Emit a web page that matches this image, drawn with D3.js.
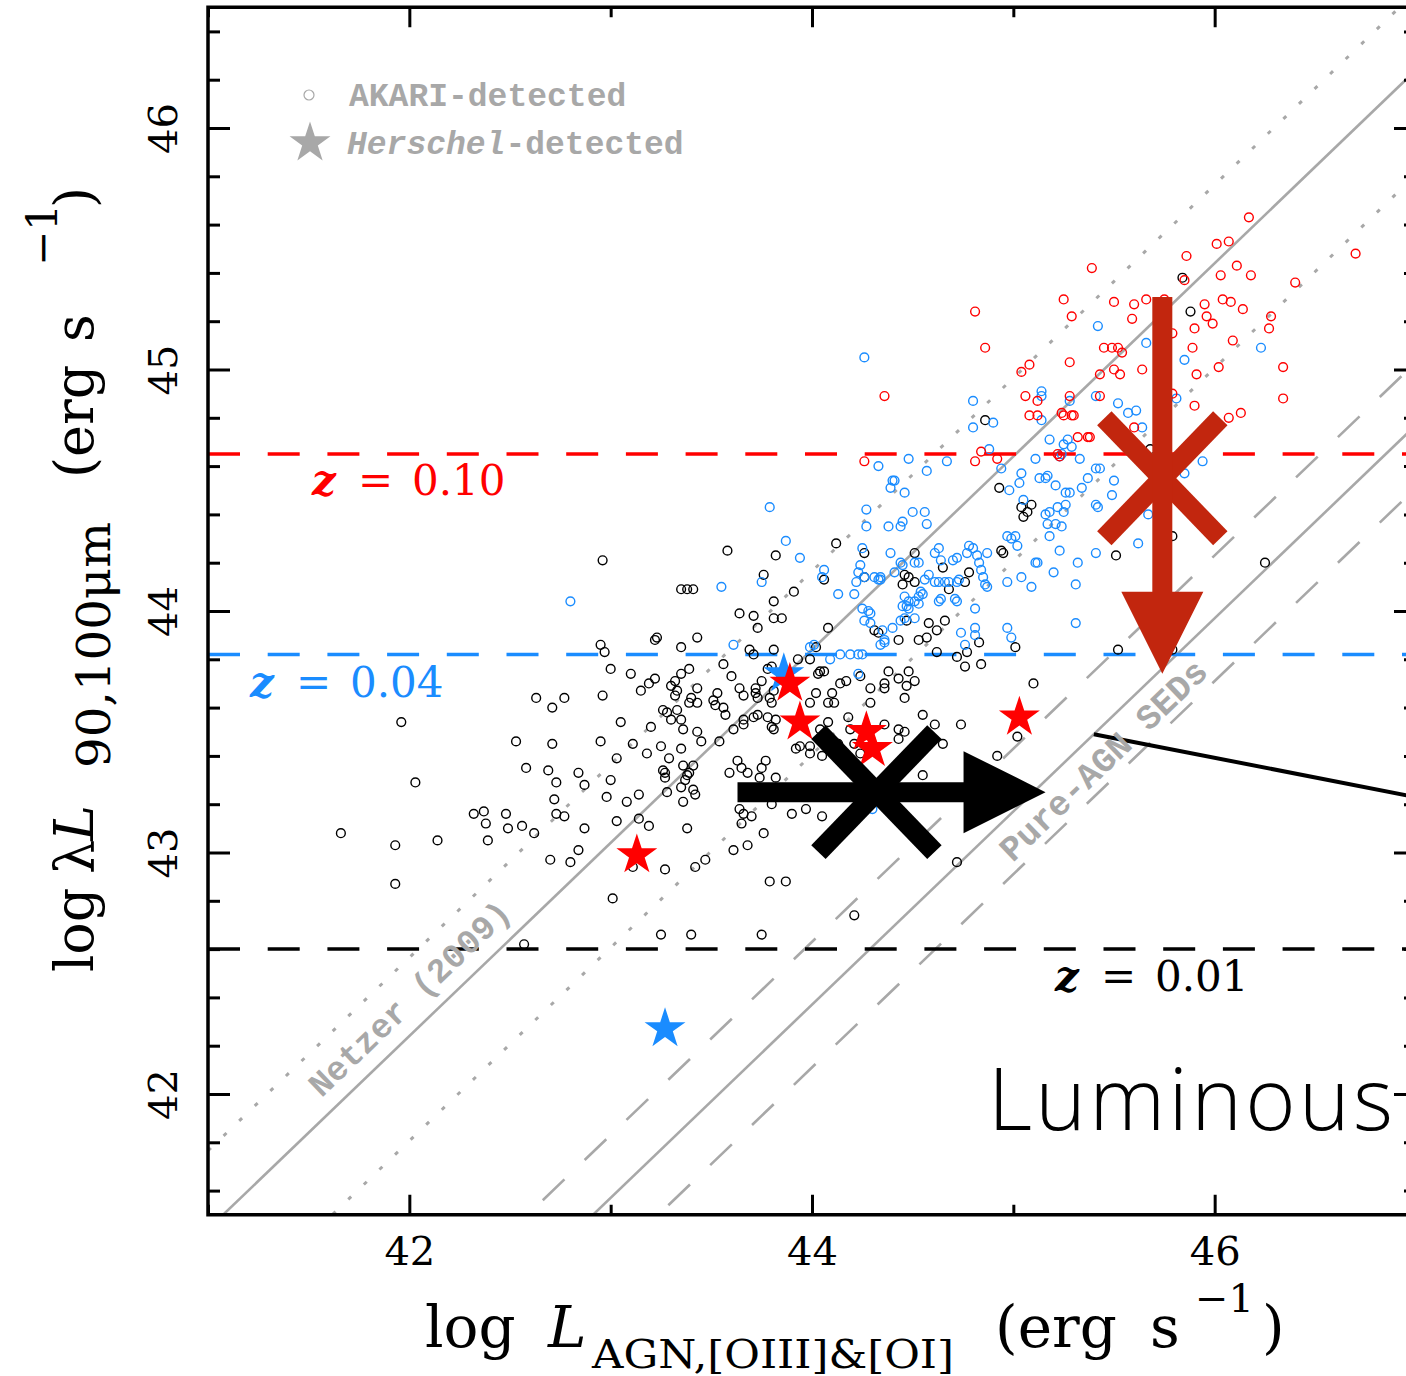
<!DOCTYPE html>
<html>
<head>
<meta charset="utf-8">
<script src="https://cdn.jsdelivr.net/npm/d3@7"></script>
<style>
  html, body { margin: 0; padding: 0; background: #fff; }
  svg { display: block; }
</style>
</head>
<body>
<svg id="chart" width="1406" height="1376"></svg>
<script>
// ---------------------------------------------------------------
// Far-IR luminosity vs. AGN luminosity ([OIII]+[OI] based)
// ---------------------------------------------------------------

// AKARI-detected sources, split by colour group: [log L_AGN, log lambda L_90,100um]
const akariBlack = [
  [42.96,44.21],[43.58,44.25],[43.35,44.09],[43.38,44.09],[43.41,44.09],[43.64,43.99],[43.23,43.89],[43.43,43.89],[41.96,43.54],[42.03,43.29],
  [42.95,43.86],[42.97,43.83],[43.00,43.76],[43.10,43.74],[43.22,43.88],[43.35,43.85],[43.19,43.70],[43.22,43.72],[43.15,43.67],[43.30,43.69],
  [43.32,43.71],[43.32,43.65],[43.33,43.67],[43.35,43.74],[43.39,43.76],[43.43,43.68],[42.63,43.64],[42.71,43.60],[42.77,43.64],[42.96,43.65],
  [43.26,43.59],[43.28,43.58],[43.30,43.55],[43.33,43.59],[43.35,43.55],[43.36,43.51],[43.39,43.62],[43.40,43.64],[43.43,43.62],[43.43,43.50],
  [43.45,43.46],[43.51,43.63],[43.53,43.66],[43.52,43.61],[43.56,43.60],[43.57,43.57],[43.56,43.78],[43.60,43.73],[43.64,43.68],[43.66,43.65],
  [43.72,43.68],[43.75,43.71],[43.72,43.66],[43.73,43.64],[43.79,43.64],[43.80,43.62],[43.81,43.67],[43.69,43.84],[43.71,43.82],[43.81,43.84],
  [43.78,43.76],[43.80,43.77],[43.61,43.51],[43.66,43.53],[43.66,43.55],[43.71,43.56],[43.73,43.57],[43.78,43.56],[43.80,43.52],[43.81,43.51],
  [43.82,43.55],[43.54,43.46],[43.93,43.80],[43.99,43.80],[44.02,43.85],[44.04,43.75],[44.06,43.75],[44.03,43.74],[44.14,43.70],[44.17,43.71],
  [44.24,43.73],[44.29,43.68],[44.29,43.62],[44.36,43.70],[44.36,43.68],[44.38,43.75],[44.43,43.72],[43.99,43.62],[44.02,43.66],[44.08,43.62],
  [44.10,43.66],[44.11,43.62],[44.18,43.56],[44.19,43.51],[44.36,43.53],[44.43,43.51],[44.43,43.47],[44.08,43.54],[44.04,43.51],[43.92,43.43],
  [43.94,43.44],[43.99,43.44],[43.99,43.41],[44.05,43.40],[44.09,43.44],[44.13,43.45],[44.24,43.41],[44.21,43.45],[42.53,43.46],[42.71,43.45],
  [42.95,43.46],[43.11,43.45],[43.05,43.54],[43.20,43.52],[43.25,43.44],[43.18,43.41],[43.29,43.39],[43.35,43.43],[42.58,43.35],[42.69,43.34],
  [42.73,43.29],[42.84,43.33],[42.87,43.28],[43.00,43.30],[43.03,43.39],[43.26,43.34],[43.27,43.33],[43.27,43.31],[43.36,43.36],[43.41,43.36],
  [43.39,43.33],[43.38,43.32],[43.37,43.30],[43.35,43.27],[43.41,43.26],[43.42,43.24],[43.28,43.25],[43.36,43.21],[43.14,43.24],[43.08,43.21],
  [42.98,43.23],[42.72,43.22],[42.32,43.16],[42.37,43.17],[42.38,43.12],[42.39,43.05],[42.48,43.16],[42.49,43.10],[42.56,43.11],[42.62,43.08],
  [42.73,43.16],[42.77,43.15],[42.87,43.10],[43.03,43.13],[43.14,43.14],[43.19,43.11],[43.38,43.10],[42.84,43.01],[42.70,42.97],[42.80,42.96],
  [43.11,42.94],[43.27,42.93],[43.42,42.94],[43.47,42.97],[43.01,42.81],[43.25,42.66],[43.40,42.66],[43.75,42.66],[43.59,43.33],[43.63,43.38],
  [43.65,43.35],[43.68,43.33],[43.74,43.31],[43.77,43.38],[43.75,43.35],[43.82,43.31],[43.64,43.18],[43.66,43.16],[43.65,43.12],[43.70,43.15],
  [43.76,43.08],[43.61,43.01],[43.68,43.03],[43.80,43.20],[43.90,43.16],[43.97,43.18],[44.05,43.15],[43.79,42.88],[43.87,42.88],[44.21,42.74],
  [41.66,43.08],[41.93,43.03],[41.93,42.87],[42.14,43.05],[42.57,42.62],
  [44.86,44.79],[44.93,44.51],[45.04,44.43],[45.09,44.44],[45.07,44.41],[45.05,44.39],[44.94,44.25],[44.95,44.24],[44.78,44.16],[44.65,44.18],
  [44.68,44.09],[44.76,44.12],[44.51,44.24],[44.46,44.15],[44.48,44.14],[44.45,44.11],[44.51,44.12],[44.26,44.24],[44.12,44.28],[44.06,44.13],
  [44.26,44.14],[43.82,44.23],[43.76,44.15],[43.91,44.08],[43.81,44.04],[43.71,43.98],[43.73,43.93],[43.81,43.97],[43.85,43.97],[44.08,43.93],
  [44.31,43.92],[44.33,43.91],[44.47,43.96],[44.43,43.88],[44.53,43.88],[44.57,43.89],[44.58,43.95],[44.62,43.92],[44.66,43.96],[44.83,43.87],
  [45.01,43.85],[44.62,43.83],[44.72,43.81],[44.76,43.77],[44.77,43.83],[44.84,43.78],[45.52,43.84],
  [44.48,43.75],[44.51,43.71],[44.47,43.69],[44.46,43.64],[45.10,43.70],[44.55,43.57],[44.61,43.53],[44.65,43.45],[44.74,43.53],[44.46,43.50],
  [45.02,43.48],[44.92,43.40],[44.55,43.32],[44.72,42.96],[45.79,43.84],
  [45.84,45.38],[45.88,45.24],[45.68,44.67],[45.79,44.31],[45.51,44.23],[46.25,44.20]
];

const akariBlue = [
  [42.80,44.04],[43.55,44.10],
  [43.61,43.86],[43.99,43.85],[44.01,43.86],[44.09,43.80],[44.14,43.82],[44.19,43.82],[44.23,43.82],[44.25,43.82],[44.23,43.74],[44.34,43.86],
  [44.36,43.87],[44.30,43.18],
  [44.80,44.87],[44.80,44.76],[44.90,44.78],[44.88,44.67],[44.33,44.60],[44.48,44.63],[44.57,44.58],[44.67,44.62],[44.94,44.59],[44.40,44.54],
  [44.41,44.54],[44.39,44.51],[44.46,44.49],[44.27,44.42],[44.27,44.35],[44.38,44.35],[44.44,44.35],[44.45,44.37],[44.50,44.41],[44.56,44.41],
  [44.57,44.36],[43.79,44.43],[43.87,44.29],[43.94,44.22],[43.75,44.12],[44.06,44.17],[44.05,44.14],[44.25,44.26],[44.24,44.19],[44.23,44.16],
  [44.22,44.12],[44.26,44.14],[44.33,44.13],[44.34,44.13],[44.13,44.07],[44.21,44.07],[44.39,44.24],[44.41,44.16],[44.45,44.19],[44.44,44.20],
  [44.51,44.20],[44.53,44.20],[44.56,44.13],[44.58,44.15],[44.63,44.26],[44.61,44.24],[44.64,44.21],[44.70,44.21],[44.72,44.22],[44.78,44.27],
  [44.80,44.26],[44.77,44.24],[44.82,44.23],[44.87,44.24],[44.83,44.20],[44.84,44.17],[44.85,44.14],[44.86,44.11],[44.87,44.10],[44.61,44.12],
  [44.63,44.12],[44.66,44.12],[44.68,44.12],[44.72,44.12],[44.73,44.13],[44.54,44.08],[44.55,44.07],[44.53,44.06],[44.46,44.06],[44.48,44.04],
  [44.47,44.02],[44.51,44.04],[44.53,44.03],[44.25,44.01],[44.28,44.00],[44.29,43.99],[44.26,43.96],[44.29,43.95],[44.35,43.92],[44.40,43.93],
  [44.36,43.88],[44.44,43.96],[44.46,43.97],[44.51,43.97],[44.48,44.01],[44.45,44.02],[44.63,44.04],[44.64,44.05],[44.71,44.05],[44.72,44.04],
  [44.74,43.91],[44.76,43.86],[44.81,43.93],[44.81,43.90],[44.81,44.01],[44.97,43.93],[44.99,43.89],[44.34,44.14],[44.31,44.14],[44.97,44.12],
  [45.04,44.14],[45.09,44.10],[45.11,44.20],[45.12,44.20],[45.20,44.16],[45.23,44.25],[45.32,44.20],[45.31,44.11],[45.31,43.95],[45.02,44.27],
  [45.01,44.31],[44.99,44.30],[44.97,44.31],[45.26,44.44],[45.22,44.43],[45.16,44.40],[45.18,44.41],[45.17,44.36],[45.21,44.36],[45.24,44.35],
  [45.18,44.31],[45.25,44.41],
  [45.42,45.18],[45.66,45.11],[46.23,45.09],[45.85,45.04],[45.14,44.91],[45.14,44.89],[45.41,44.89],[45.28,44.87],[45.52,44.86],[45.81,44.88],
  [45.57,44.82],[45.61,44.83],[45.14,44.79],[45.64,44.76],[45.18,44.71],[45.25,44.69],[45.27,44.71],[45.29,44.68],[45.23,44.64],[45.24,44.65],
  [45.33,44.63],[45.11,44.63],[45.43,44.59],[45.50,44.54],[45.37,44.55],[45.04,44.57],[45.03,44.53],[45.13,44.55],[45.17,44.56],[45.16,44.55],
  [45.21,44.52],[45.34,44.51],[45.26,44.49],[45.28,44.49],[45.49,44.48],[45.94,44.62],[45.85,44.57],[44.98,44.50],[45.05,44.46],
  [45.41,44.59],[45.41,44.44],[45.42,44.43],[45.67,44.40],[45.62,44.28],[45.41,44.24],
  [44.26,45.05]
];

const akariRed = [
  [44.81,45.24],[44.86,45.09],[44.36,44.89],[44.26,44.62],[44.81,44.62],[44.84,44.66],[44.92,44.63],
  [46.17,45.63],[46.01,45.52],[46.07,45.53],[45.86,45.47],[46.70,45.48],[45.39,45.42],[45.85,45.37],[46.03,45.39],[46.11,45.43],[46.18,45.39],
  [46.40,45.36],[45.25,45.29],[45.29,45.22],[45.50,45.28],[45.60,45.27],[45.59,45.21],[45.66,45.29],[45.75,45.29],[45.95,45.27],[45.96,45.22],
  [45.99,45.19],[46.04,45.29],[46.08,45.28],[46.14,45.25],[45.90,45.17],[46.28,45.22],[46.27,45.17],[46.09,45.12],[45.89,45.09],[45.79,45.15],
  [45.45,45.09],[45.49,45.09],[45.52,45.09],[45.54,45.07],[45.28,45.03],[45.04,44.99],[45.08,45.02],[45.43,44.98],[45.50,45.00],[45.53,44.98],
  [45.64,45.00],[45.91,44.98],[46.02,45.01],[46.34,45.01],[45.06,44.89],[45.28,44.89],[45.43,44.89],[45.12,44.87],[45.79,44.90],[45.90,44.85],
  [46.34,44.88],[45.08,44.81],[45.12,44.81],[45.24,44.82],[45.25,44.81],[45.29,44.81],[45.30,44.81],[45.60,44.76],[46.07,44.80],[46.13,44.82],
  [45.32,44.72],[45.37,44.72],[45.38,44.72],[45.22,44.65],[45.23,44.64]
];

// Herschel-detected sources
const herschelBlue = [[43.86,43.74],[43.27,42.27]];
const herschelRed  = [[43.89,43.70],[43.94,43.54],[44.27,43.50],[44.30,43.43],[43.13,42.99],[45.03,43.56]];

// Redshift limits (horizontal dashed lines)
const zLabels = ["0.10", "0.04", "0.01"];
const zLimitY = [44.65, 43.82, 42.60];

// Relations of the form y = slope * x + intercept
const relationSlope = 0.8;
const netzerIntercept = 8.64;              // Netzer (2009)
const netzerBand = [8.965, 8.206];         // dotted envelope
const pureAgnIntercept = 7.17;             // pure-AGN SEDs
const pureAgnBand = [7.43, 6.91];          // dashed envelope

// Stacked / mean positions with their shifts
const blackMean = [44.32, 43.25];
const blackArrowFrom = 43.63, blackArrowTo = 45.16;   // arrow along x
const redMean = [45.74, 44.55];
const redArrowFrom = 45.30, redArrowTo = 43.74;       // arrow along y

// Pointer line towards the companion panel
const pointerLine = [[45.40, 43.49], [47.30, 43.18]];

// Axis ticks
const xMajorTicks = [42, 44, 46];
const xMinorTicks = [41, 43, 45, 47];
const yMajorTicks = [42, 43, 44, 45, 46];
const yMinorTicks = d3.range(41.6, 46.5, 0.2).filter(v => Math.abs(v - Math.round(v)) > 0.01);

// ---------------------------------------------------------------
const svg = d3.select("#chart");
const x = d3.scaleLinear().domain([41, 47]).range([208, 1416]);
const y = d3.scaleLinear().domain([41.5, 46.5]).range([1214.75, 7.25]);

const BLUE = "#1a8cff", RED = "#ff0000", GREY = "#a8a8a8", DARKRED = "#c2260e";
const SERIF = "'DejaVu Serif', serif";
const MONO = "'Liberation Mono', 'DejaVu Sans Mono', monospace";

svg.append("defs").append("clipPath").attr("id", "plotClip")
  .append("rect").attr("x", 208).attr("y", 7.25).attr("width", 1208).attr("height", 1207.5);

const plot = svg.append("g").attr("clip-path", "url(#plotClip)");

// straight relation lines
const xs = [41, 47.2];
const relLine = d3.line().x(d => x(d[0])).y(d => y(d[1]));
function relation(b, style) {
  plot.append("path")
    .attr("d", relLine(xs.map(v => [v, relationSlope * v + b])))
    .attr("fill", "none").attr("stroke", GREY)
    .attr("stroke-width", style.w).attr("stroke-dasharray", style.dash || null);
}
relation(netzerIntercept, { w: 2.6 });
netzerBand.forEach(b => relation(b, { w: 3, dash: "4,17.6" }));
relation(pureAgnIntercept, { w: 2.6 });
pureAgnBand.forEach(b => relation(b, { w: 2.6, dash: "30,28" }));

// redshift limits
const zColors = [RED, BLUE, "#000"];
zLimitY.forEach((v, i) => {
  plot.append("line")
    .attr("x1", x(41)).attr("x2", x(47.2)).attr("y1", y(v)).attr("y2", y(v))
    .attr("stroke", zColors[i]).attr("stroke-width", 3.5)
    .attr("stroke-dasharray", "32,27.7");
});

// AKARI circles
function circles(data, color) {
  plot.append("g").selectAll("circle").data(data).join("circle")
    .attr("cx", d => x(d[0])).attr("cy", d => y(d[1])).attr("r", 4.4)
    .attr("fill", "none").attr("stroke", color).attr("stroke-width", 1.4);
}
circles(akariBlack, "#000");
circles(akariBlue, BLUE);
circles(akariRed, RED);

// Herschel stars
const starPath = R => d3.lineRadial()
  .angle(d => d[0]).radius(d => d[1]).curve(d3.curveLinearClosed)(
    d3.range(10).map(i => [i * Math.PI / 5, i % 2 ? R * 0.382 : R]));
function stars(data, color) {
  plot.append("g").selectAll("path").data(data).join("path")
    .attr("d", starPath(21.5))
    .attr("transform", d => `translate(${x(d[0])},${y(d[1])})`)
    .attr("fill", color);
}
stars(herschelBlue, BLUE);
stars(herschelRed, RED);

// big cross marker
function cross(cx, cy, color) {
  const dx = 58, dy = 60;
  [[-1, -1, 1, 1], [-1, 1, 1, -1]].forEach(s => {
    plot.append("line")
      .attr("x1", cx + s[0] * dx).attr("y1", cy + s[1] * dy)
      .attr("x2", cx + s[2] * dx).attr("y2", cy + s[3] * dy)
      .attr("stroke", color).attr("stroke-width", 20);
  });
}
// block arrow between two points
function arrow(x0, y0, x1, y1, color) {
  const len = Math.hypot(x1 - x0, y1 - y0);
  const ang = Math.atan2(y1 - y0, x1 - x0) * 180 / Math.PI;
  const hw = 10, head = 82, hh = 41;
  const pts = [[0, -hw], [len - head, -hw], [len - head, -hh], [len, 0], [len - head, hh], [len - head, hw], [0, hw]];
  plot.append("path")
    .attr("d", "M" + pts.map(p => p.join(",")).join("L") + "Z")
    .attr("transform", `translate(${x0},${y0}) rotate(${ang})`)
    .attr("fill", color);
}
cross(x(blackMean[0]), y(blackMean[1]), "#000");
arrow(x(blackArrowFrom), y(blackMean[1]), x(blackArrowTo), y(blackMean[1]), "#000");
cross(x(redMean[0]), y(redMean[1]), DARKRED);
arrow(x(redMean[0]), y(redArrowFrom), x(redMean[0]), y(redArrowTo), DARKRED);

// pointer line
plot.append("path").attr("d", relLine(pointerLine))
  .attr("stroke", "#000").attr("stroke-width", 4).attr("fill", "none");

// rotated relation labels
const lineAngle = -Math.atan(relationSlope * (y(41.5) - y(42.5)) / (x(42) - x(41))) * 180 / Math.PI;
plot.append("text").text("Netzer (2009)")
  .attr("transform", `translate(411,1000) rotate(${lineAngle})`)
  .attr("text-anchor", "middle").attr("dominant-baseline", "central")
  .attr("font-family", MONO).attr("font-weight", "bold").attr("font-size", 34)
  .attr("fill", GREY);
plot.append("text").text("Pure-AGN SEDs")
  .attr("transform", `translate(1105,762) rotate(${lineAngle})`)
  .attr("text-anchor", "middle").attr("dominant-baseline", "central")
  .attr("font-family", MONO).attr("font-weight", "bold").attr("font-size", 35)
  .attr("fill", GREY);

// redshift labels
const zLabelPos = [[312, 495], [250, 697], [1055, 991]];
zLabels.forEach((lab, i) => {
  const t = svg.append("text").attr("y", zLabelPos[i][1])
    .attr("font-family", SERIF).attr("font-size", 42).attr("fill", zColors[i]);
  t.append("tspan").attr("x", zLabelPos[i][0]).attr("font-style", "italic").attr("font-weight", "bold").text("z");
  t.append("tspan").attr("x", zLabelPos[i][0] + 46).text("=");
  t.append("tspan").attr("x", zLabelPos[i][0] + 100).text(lab);
});

// "Luminous" panel title
svg.append("text").attr("x", 988).attr("y", 1130)
  .attr("font-family", "'Open Sans', 'Noto Sans', sans-serif").attr("font-size", 86)
  .attr("font-weight", 300).attr("textLength", 405).attr("lengthAdjust", "spacing")
  .attr("fill", "#000").text("Luminous");

// legend
const leg = svg.append("g").attr("fill", GREY);
leg.append("circle").attr("cx", 309).attr("cy", 95).attr("r", 5)
  .attr("fill", "none").attr("stroke", GREY).attr("stroke-width", 1.2);
leg.append("text").attr("x", 349).attr("y", 106)
  .attr("font-family", MONO).attr("font-weight", "bold").attr("font-size", 33).text("AKARI-detected");
leg.append("path").attr("d", starPath(21.5)).attr("transform", "translate(310,143)");
const lt = leg.append("text").attr("x", 347).attr("y", 154)
  .attr("font-family", MONO).attr("font-weight", "bold").attr("font-size", 33);
lt.append("tspan").attr("font-style", "italic").text("Herschel");
lt.append("tspan").text("-detected");

// axes
function styleAxis(g) {
  g.select(".domain").remove();
  g.selectAll("line").attr("stroke", "#000").attr("stroke-width", 3);
  g.selectAll("text").attr("font-family", SERIF).attr("font-size", 40).attr("fill", "#000");
}
svg.append("g").attr("transform", `translate(0,${y(41.5)})`)
  .call(d3.axisBottom(x).tickValues(xMajorTicks).tickSize(-20).tickPadding(22).tickFormat(d3.format("d"))).call(styleAxis);
svg.append("g").attr("transform", `translate(0,${y(41.5)})`)
  .call(d3.axisBottom(x).tickValues(xMinorTicks).tickSize(-10).tickFormat("")).call(styleAxis);
svg.append("g").attr("transform", `translate(0,${y(46.5)})`)
  .call(d3.axisTop(x).tickValues(xMajorTicks).tickSize(-20).tickFormat("")).call(styleAxis);
svg.append("g").attr("transform", `translate(0,${y(46.5)})`)
  .call(d3.axisTop(x).tickValues(xMinorTicks).tickSize(-10).tickFormat("")).call(styleAxis);

const yLeft = svg.append("g").attr("transform", `translate(${x(41)},0)`)
  .call(d3.axisLeft(y).tickValues(yMajorTicks).tickSize(-22).tickFormat(d3.format("d"))).call(styleAxis);
yLeft.selectAll("text").attr("x", null).attr("dy", null).attr("text-anchor", "middle")
  .attr("transform", "translate(-31,0) rotate(-90)");
svg.append("g").attr("transform", `translate(${x(41)},0)`)
  .call(d3.axisLeft(y).tickValues(yMinorTicks).tickSize(-12).tickFormat("")).call(styleAxis);
svg.append("g").attr("transform", `translate(${x(47)},0)`)
  .call(d3.axisRight(y).tickValues(yMajorTicks).tickSize(-22).tickFormat("")).call(styleAxis);
svg.append("g").attr("transform", `translate(${x(47)},0)`)
  .call(d3.axisRight(y).tickValues(yMinorTicks).tickSize(-12).tickFormat("")).call(styleAxis);

// frame
svg.append("rect").attr("x", x(41)).attr("y", y(46.5))
  .attr("width", x(47) - x(41)).attr("height", y(41.5) - y(46.5))
  .attr("fill", "none").attr("stroke", "#000").attr("stroke-width", 3.5);

// axis titles
const xt = svg.append("text").attr("y", 1347).attr("font-family", SERIF).attr("font-size", 58).attr("fill", "#000");
xt.append("tspan").attr("x", 425).text("log");
xt.append("tspan").attr("x", 548).attr("font-style", "italic").text("L");
xt.append("tspan").attr("x", 592).attr("dy", 21).attr("font-size", 40)
  .attr("textLength", 362).attr("lengthAdjust", "spacingAndGlyphs").text("AGN,[OIII]&[OI]");
xt.append("tspan").attr("x", 995).attr("dy", -21).text("(erg");
xt.append("tspan").attr("x", 1150).text("s");
xt.append("tspan").attr("x", 1195).attr("dy", -35).attr("font-size", 40).text("\u22121");
xt.append("tspan").attr("x", 1262).attr("dy", 35).text(")");

const yt = svg.append("g").attr("transform", "translate(93,0) rotate(-90)")
  .append("text").attr("y", 0).attr("font-family", SERIF).attr("font-size", 54).attr("fill", "#000");
yt.append("tspan").attr("x", -972).text("log");
yt.append("tspan").attr("x", -874).text("\u03bb");
yt.append("tspan").attr("x", -841).attr("font-style", "italic").text("L");
yt.append("tspan").attr("x", -768).attr("dy", 17).attr("font-size", 46)
  .attr("textLength", 246).attr("lengthAdjust", "spacingAndGlyphs").text("90,100\u03bcm");
yt.append("tspan").attr("x", -478).attr("dy", -17).text("(erg");
yt.append("tspan").attr("x", -342).text("s");
yt.append("tspan").attr("x", -266).attr("dy", -36).attr("font-size", 42).text("\u22121");
yt.append("tspan").attr("x", -208).attr("dy", 36).text(")");
</script>
</body>
</html>
